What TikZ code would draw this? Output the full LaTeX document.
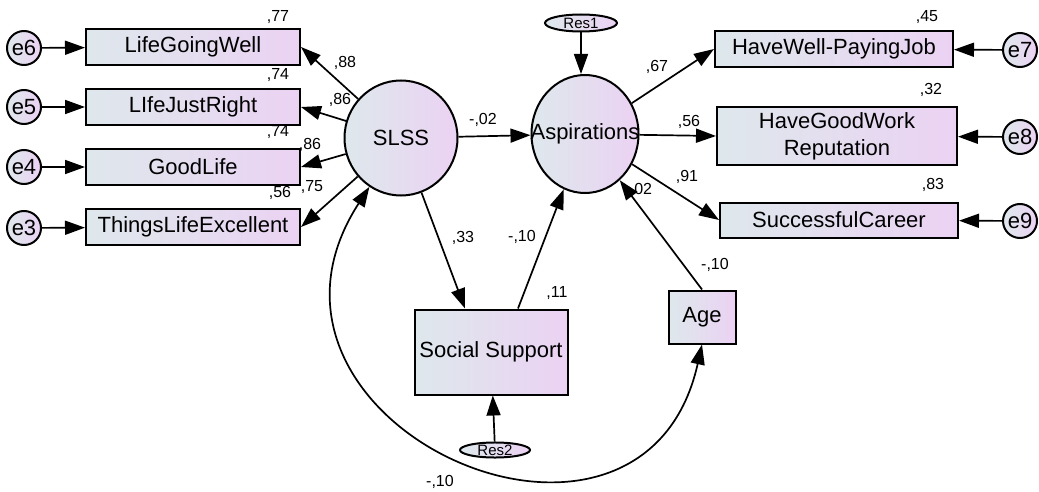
\documentclass[tikz,border=0pt]{standalone}
\usepackage{fontspec}
\setmainfont{Liberation Sans}
\usepackage{xcolor}
\usepackage{tikz}
\usetikzlibrary{arrows.meta, shapes.geometric}
\definecolor{lblue}{RGB}{222, 232, 236}
\definecolor{lpurple}{RGB}{235, 210, 243}

\begin{document}
\begin{tikzpicture}[x = 0.5pt, y = -0.5pt,
	obs/.style = {draw, line width = 1pt, left color = lblue, right color = lpurple, inner sep = 0pt, align = center, font = \fontsize{11}{13.5}\selectfont},
	lat/.style = {ellipse, draw, line width = 1pt, left color = lblue, right color = lpurple, inner sep = 0pt, font = \fontsize{11}{13}\selectfont},
	err/.style = {circle, draw, line width = 1pt, left color = lblue, right color = lpurple, minimum size = 17pt, inner sep = 0pt, font = \fontsize{11}{13}\selectfont},
	res/.style = {ellipse, draw, line width = 1pt, left color = lblue, right color = lpurple, inner sep = 0pt, font = \fontsize{7.5}{8}\selectfont},
	num/.style = {inner sep = 0pt, font = \fontsize{8}{9}\selectfont},
	arr/.style = {-{Triangle[length = 10pt, width = 7pt]}, line width = 0.85pt},
	cov/.style = {{Triangle[length = 10pt, width = 7pt]}-{Triangle[length = 10pt, width = 7pt]}, line width = 0.85pt}]
			\useasboundingbox (0,0) rectangle (1039,492);
			% latent variables
			\node (slss) at (401,138) [lat, minimum width = 56.5pt, minimum height = 57.5pt] {SLSS};
			\node (asp) at (585,134) [lat, inner xsep = -8.5pt, minimum width = 53.5pt, minimum height = 59pt] {Aspirations};
			\node (res1) at (581,23) [res, minimum width = 36pt, minimum height = 8.5pt] {Res1};
			\node (res2) at (495,450) [res, minimum width = 35pt, minimum height = 7.5pt] {Res2};
			% SLSS indicators
			\node (lgw) at (193,47) [obs, minimum width = 107pt, minimum height = 18pt] {LifeGoingWell};
			\node (ljr) at (193,107) [obs, minimum width = 107pt, minimum height = 18pt] {LIfeJustRight};
			\node (gl) at (193,167) [obs, minimum width = 107pt, minimum height = 18pt] {GoodLife};
			\node (tle) at (193,227) [obs, minimum width = 107pt, minimum height = 18pt] {ThingsLifeExcellent};
			\node (e6) at (24,48) [err] {e6};
			\node (e5) at (24,107) [err] {e5};
			\node (e4) at (24,167) [err] {e4};
			\node (e3) at (24,228) [err] {e3};
			% Aspirations indicators
			\node (hwj) at (834,49) [obs, minimum width = 119pt, minimum height = 18pt] {HaveWell-PayingJob};
			\node (hgw) at (837,136) [obs, minimum width = 120pt, minimum height = 29pt] {HaveGoodWork\\Reputation};
			\node (sc) at (839,220) [obs, minimum width = 119pt, minimum height = 17.5pt] {SuccessfulCareer};
			\node (e7) at (1020,50) [err] {e7};
			\node (e8) at (1020,137) [err] {e8};
			\node (e9) at (1020,221) [err] {e9};
			% other observed
			\node (ss) at (491,352) [obs, minimum width = 76.5pt, minimum height = 42.5pt] {Social Support};
			\node (age) at (702,317) [obs, minimum width = 33.5pt, minimum height = 26.5pt] {Age};
			% paths
			\draw (e6) edge[arr] (lgw) (e5) edge[arr] (ljr) (e4) edge[arr] (gl) (e3) edge[arr] (tle);
			\draw (e7) edge[arr] (hwj) (e8) edge[arr] (hgw) (e9) edge[arr] (sc);
			\draw (slss) edge[arr] (lgw.east) (slss) edge[arr] (ljr.east) (slss) edge[arr] (gl.east) (slss) edge[arr] (tle.east);
			\draw (asp) edge[arr] (hwj.west) (asp) edge[arr] (hgw.west) (asp) edge[arr] (sc.west);
			\draw (slss) edge[arr] (asp);
			\draw (slss) edge[arr] ([xshift = -13pt]ss.north);
			\draw ([xshift = 13.5pt]ss.north) edge[arr] (asp);
			\draw (age.north) edge[arr] (asp);
			\draw (res1) edge[arr] (res1 |- asp.north);
			\draw (res2) edge[arr] (ss);
			\draw[cov] (slss) .. controls (216,424) and (642,614) .. (age.south);
			% estimates
			\node (n77) at (278,17) [num] {,77};
			\node (n74a) at (278,75) [num] {,74};
			\node (n74b) at (278,132) [num] {,74};
			\node (n56a) at (280,193) [num] {,56};
			\node (n88) at (345,63) [num] {,88};
			\node (n86a) at (340,100) [num] {,86};
			\node (n86b) at (310,145) [num] {,86};
			\node (n75) at (312,187) [num] {,75};
			\node (n02a) at (483,120) [num] {-,02};
			\node (n33) at (463,238) [num] {,33};
			\node (n10a) at (522,237) [num] {-,10};
			\node (n11) at (557,293) [num] {,11};
			\node (n02b) at (641,190) [num] {,02};
			\node (n10b) at (715,265) [num] {-,10};
			\node (n10c) at (440,482) [num] {-,10};
			\node (n67) at (657,67) [num] {,67};
			\node (n56b) at (689,122) [num] {,56};
			\node (n91) at (687,177) [num] {,91};
			\node (n45) at (927,17) [num] {,45};
			\node (n32) at (931,90) [num] {,32};
			\node (n83) at (933,185) [num] {,83};
\end{tikzpicture}
\end{document}
